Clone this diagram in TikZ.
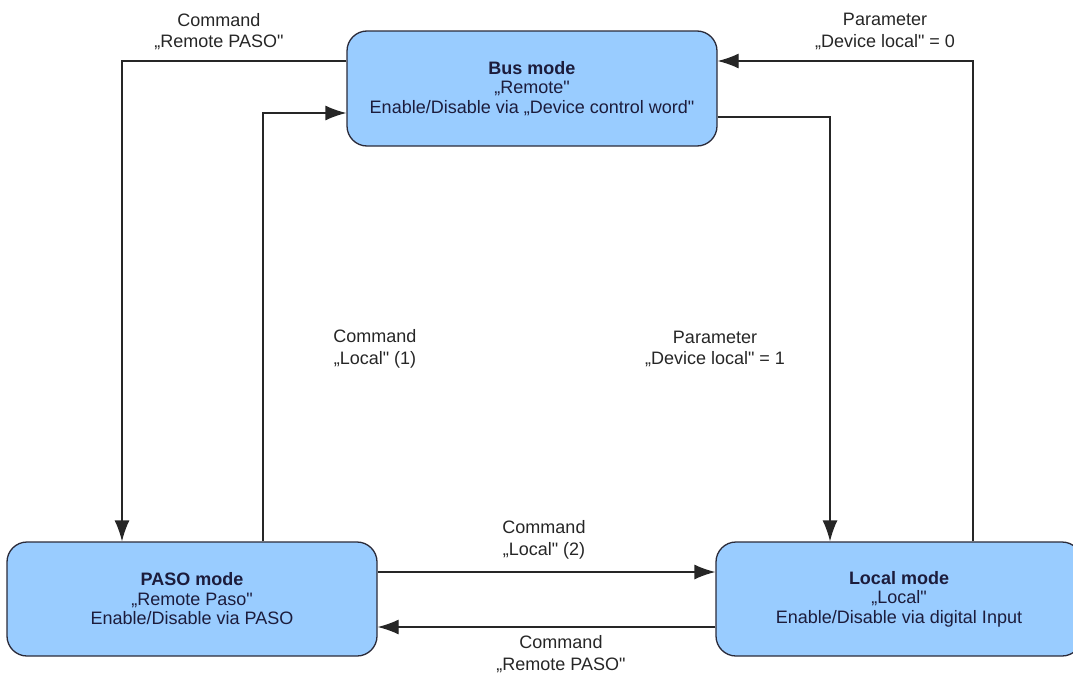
\documentclass[tikz,border=0pt]{standalone}
\usepackage{fontspec}
\setmainfont{Liberation Sans}[Ligatures=TeXOff]
\usetikzlibrary{arrows.meta}
\definecolor{boxfill}{HTML}{99CCFF}
\definecolor{boxline}{HTML}{2B2B3A}
\definecolor{boxtext}{HTML}{1C1C3C}
\definecolor{lbltext}{HTML}{262626}
\begin{document}
\begin{tikzpicture}[x=1pt,y=-1pt,
  state/.style={draw=boxline, fill=boxfill, line width=1.3pt, rounded corners=20pt,
    text=boxtext, align=center, inner sep=0pt,
    font=\fontsize{18}{19.5}\selectfont},
  lbl/.style={text=lbltext, align=center, inner sep=0pt,
    font=\fontsize{18}{21.5}\selectfont},
  arr/.style={draw=black!85, line width=1.3pt, -{Latex[length=21pt,width=15pt]}}]
\useasboundingbox (0,0) rectangle (1073,672);
\clip (0,0) rectangle (1073,672);
\node[state, minimum width=370pt, minimum height=115pt] (bus) at (532,88.5)
  {\textbf{Bus mode}\\„Remote"\\Enable/Disable via „Device control word"};
\node[state, minimum width=370pt, minimum height=114pt] (paso) at (192,599)
  {\textbf{PASO mode}\\„Remote Paso"\\Enable/Disable via PASO};
\node[state, minimum width=366pt, minimum height=114pt] (local) at (899,599)
  {\textbf{Local mode}\\„Local"\\Enable/Disable via digital Input};
\draw[arr] (bus.west |- 0,61) -| (paso.north -| 122,0);
\draw[arr] (paso.north -| 263,0) |- (bus.west |- 0,113);
\draw[arr] (bus.east |- 0,117) -| (local.north -| 830,0);
\draw[arr] (local.north -| 973,0) |- (bus.east |- 0,61);
\draw[arr] (paso.east |- 0,572) -- (local.west |- 0,572);
\draw[arr] (local.west |- 0,627) -- (paso.east |- 0,627);
\node[lbl] (l1) at (219,31.5) {Command\\„Remote PASO"};
\node[lbl] (l2) at (375,349) {Command\\„Local" (1)};
\node[lbl] (l3) at (715,349) {Parameter\\„Device local" = 1};
\node[lbl] (l4) at (885,31.5) {Parameter\\„Device local" = 0};
\node[lbl] (l5) at (544,540) {Command\\„Local" (2)};
\node[lbl] (l6) at (561,654) {Command\\„Remote PASO"};
\end{tikzpicture}
\end{document}
